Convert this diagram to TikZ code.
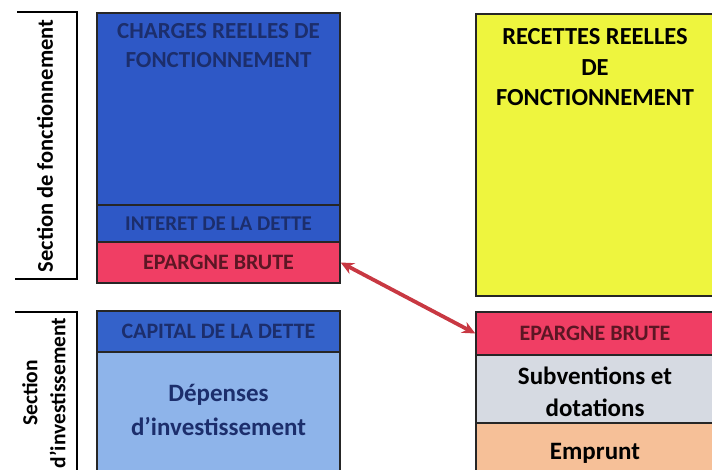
\documentclass[tikz,border=0pt]{standalone}
\usepackage{fontspec}
\setmainfont{Carlito}
\usetikzlibrary{positioning,arrows.meta}
\definecolor{bleuchg}{RGB}{46,88,198}
\definecolor{bleucap}{RGB}{52,98,202}
\definecolor{bleuclair}{RGB}{142,180,234}
\definecolor{rougeep}{RGB}{240,62,100}
\definecolor{jaunerec}{RGB}{238,245,62}
\definecolor{grissub}{RGB}{214,218,226}
\definecolor{pecheemp}{RGB}{246,192,152}
\definecolor{encre}{RGB}{28,46,108}
\definecolor{encrerouge}{RGB}{92,22,36}
\definecolor{fleche}{RGB}{200,56,66}
\tikzset{
	bloc/.style={draw=black!85, line width=1.4pt, minimum width=243pt, inner sep=0pt},
	blocd/.style={draw=black!85, line width=1.4pt, minimum width=238pt, inner sep=0pt},
	txt/.style={font=\bfseries\fontsize{22}{26}\selectfont, align=center, inner sep=0pt},
	section/.style={font=\bfseries\fontsize{22.5}{28}\selectfont, align=center, rotate=90, inner sep=0pt}
}
\begin{document}
\begin{tikzpicture}[x=1pt,y=-1pt]
	\clip (0,0) rectangle (712,470);
	% section de fonctionnement
	\node[bloc, fill=bleuchg, minimum height=192pt] (charges) at (218.5,109) {};
	\node[bloc, fill=bleuchg, minimum height=37pt] (interet) at (218.5,223.5) {};
	\node[bloc, fill=rougeep, minimum height=41pt] (epargneg) at (218.5,262.5) {};
	\node[txt, encre, font=\bfseries\fontsize{23}{29}\selectfont, below=11pt of charges.north] (chargestxt) {CHARGES REELLES DE\\FONCTIONNEMENT};
	\node[txt, encre, font=\bfseries\fontsize{21}{26}\selectfont] (interettxt) at (interet) {INTERET DE LA DETTE};
	\node[txt, encrerouge] (epargnegtxt) at (epargneg) {EPARGNE BRUTE};
	
	% section d'investissement
	\node[bloc, fill=bleucap, minimum height=41pt] (capital) at (218.5,331.5) {};
	\node[bloc, fill=bleuclair, minimum height=128pt] (depenses) at (218.5,416) {};
	\node[txt, encre] (capitaltxt) at (capital) {CAPITAL DE LA DETTE};
	\node[txt, encre, font=\bfseries\fontsize{25}{34}\selectfont] (depensestxt) at (218.5,410) {Dépenses\\d'investissement};
	
	% recettes
	\node[blocd, fill=jaunerec, minimum height=282pt] (recettes) at (595,155) {};
	\node[blocd, fill=rougeep, minimum height=43pt] (epargned) at (595,333.5) {};
	\node[blocd, fill=grissub, minimum height=68pt] (subventions) at (595,389) {};
	\node[blocd, fill=pecheemp, minimum height=57pt] (emprunt) at (595,451.5) {};
	\node[txt, font=\bfseries\fontsize{24.5}{30.5}\selectfont, below=15pt of recettes.north] (recettestxt) {RECETTES REELLES\\DE\\FONCTIONNEMENT};
	\node[txt, encrerouge] (epargnedtxt) at (epargned) {EPARGNE BRUTE};
	\node[txt, font=\bfseries\fontsize{25}{32}\selectfont] (subventionstxt) at (595,392) {Subventions et\\dotations};
	\node[txt, font=\bfseries\fontsize{25}{30}\selectfont] (emprunttxt) at (595,453) {Emprunt};
	
	% accolades des sections
	\draw[line width=2pt] (17,12) -- (77,12) -- (77,279) -- (15,279);
	\draw[line width=2pt] (15,312) -- (77,312) -- (77,480);
	\node[section] (secfonc) at (45,146) {Section de fonctionnement};
	\node[section, font=\bfseries\fontsize{21.5}{28}\selectfont] (secinv) at (44,393) {Section\\d'investissement};
	
	% epargne brute
	\draw[fleche, line width=3.8pt, {Stealth[length=13pt,width=12pt]}-{Stealth[length=13pt,width=12pt]}] (epargneg.east) -- (epargned.west);
\end{tikzpicture}
\end{document}
